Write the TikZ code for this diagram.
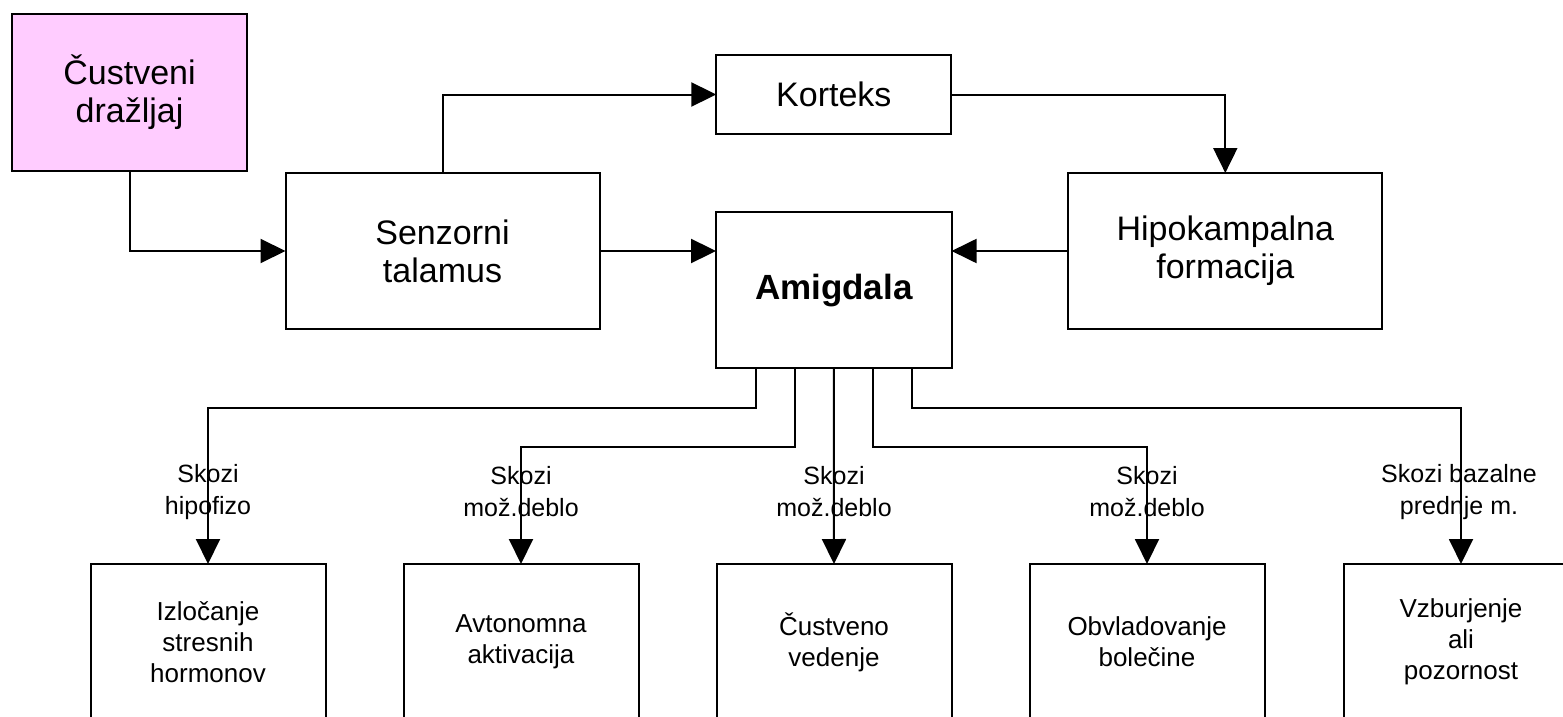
\documentclass[tikz,border=0pt]{standalone}
\usepackage{fontspec}
\setmainfont{Liberation Sans}
\usetikzlibrary{arrows.meta,calc}
\definecolor{pinkfill}{RGB}{255,204,255}
\tikzset{
  box/.style={draw=black, line width=2pt, inner sep=0pt, outer sep=0pt, align=center,
              font=\fontsize{34}{38}\selectfont},
  lowbox/.style={box, minimum width=235pt, minimum height=156pt,
              font=\fontsize{26}{31}\selectfont},
  lbl/.style={inner sep=0pt, align=center, font=\fontsize{25}{32}\selectfont},
  arr/.style={line width=2pt, -{Triangle[length=25pt,width=24pt]}},
}
\begin{document}
\begin{tikzpicture}[x=1pt,y=-1pt]
\useasboundingbox (0,0) rectangle (1563,717);
\fill[white] (0,0) rectangle (1563,717);
\clip (0,0) rectangle (1563,717);

% top boxes
\node[box, fill=pinkfill, minimum width=235pt, minimum height=157pt] (stim) at (129.5,92.5) {Čustveni\\dražljaj};
\node[box, minimum width=314pt, minimum height=156pt] (senz) at (442.5,251) {Senzorni\\talamus};
\node[box, minimum width=235pt, minimum height=79pt] (kort) at (833.8,94.5) {Korteks};
\node[box, minimum width=235.5pt, minimum height=156pt, font=\fontsize{35}{40}\selectfont\bfseries] (amig) at (833.8,290.3) {Amigdala};
\node[box, minimum width=314pt, minimum height=156pt] (hipo) at (1225.3,251) {Hipokampalna\\formacija};

% bottom boxes
\node[lowbox] (b1) at (208,642) {Izločanje\\stresnih\\hormonov};
\node[lowbox] (b2) at (521,642) {Avtonomna\\aktivacija};
\node[lowbox] (b3) at (834,642) {Čustveno\\vedenje};
\node[lowbox] (b4) at (1147,642) {Obvladovanje\\bolečine};
\node[lowbox] (b5) at (1461,642) {Vzburjenje\\ali\\pozornost};

% labels (drawn below the connectors)
\node[lbl] (l1) at (208,492) {Skozi\\hipofizo};
\node[lbl] (l2) at (521,492) {Skozi\\mož.deblo};
\node[lbl] (l3) at (834,492) {Skozi\\mož.deblo};
\node[lbl] (l4) at (1147,492) {Skozi\\mož.deblo};
\node[lbl] (l5) at (1459,492) {Skozi bazalne\\prednje m.};

% top connectors
\draw[arr] (stim.south) |- (senz.west);
\draw[arr] (senz.north) |- (kort.west);
\draw[arr] (kort.east) -| (hipo.north);
\draw[arr] (senz.east) -- (senz.east -| amig.west);
\draw[arr] (hipo.west) -- (hipo.west -| amig.east);

% bottom connectors
\coordinate (a1) at ([xshift=-78pt]amig.south);
\coordinate (a2) at ([xshift=-39pt]amig.south);
\coordinate (a3) at (amig.south);
\coordinate (a4) at ([xshift=39pt]amig.south);
\coordinate (a5) at ([xshift=78pt]amig.south);
\draw[arr] (a1) -- (a1 |- 0,408) -| (b1.north);
\draw[arr] (a2) -- (a2 |- 0,447) -| (b2.north);
\draw[arr] (a3) -- (b3.north);
\draw[arr] (a4) -- (a4 |- 0,447) -| (b4.north);
\draw[arr] (a5) -- (a5 |- 0,408) -| (b5.north);
\end{tikzpicture}
\end{document}
